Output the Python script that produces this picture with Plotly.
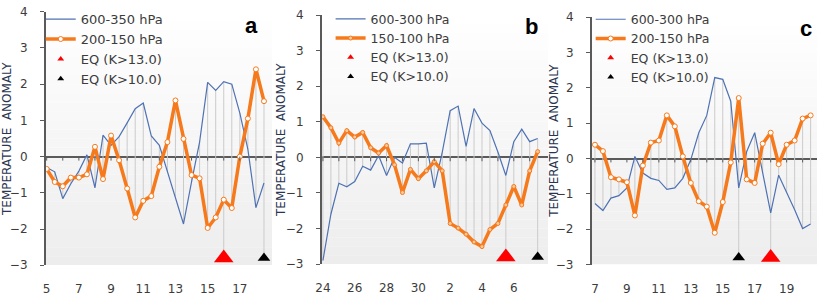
import plotly.graph_objects as go

W, H = 818, 296

# ---------------- data (half-daily values) ----------------
# Panel a
a_ticktext = ["5", "7", "9", "11", "13", "15", "17"]
a_blue_name = "600-350 hPa"
a_orange_name = "200-150 hPa"
a_blue = [-0.30, -0.42, -1.16, -0.75, -0.40, 0.05, -0.86, 0.59, 0.31, 0.55,
          0.93, 1.32, 1.48, 0.57, 0.31, -0.40, -1.10, -1.86, -0.70, 0.40,
          2.05, 1.83, 2.07, 2.00, 1.20, 0.20, -1.41, -0.73]
a_orange = [-0.34, -0.70, -0.82, -0.58, -0.58, -0.49, 0.27, -0.62, 0.58, -0.10,
            -0.88, -1.68, -1.22, -1.09, -0.28, 0.40, 1.55, 0.49, -0.51, -0.60,
            -1.97, -1.68, -1.19, -1.42, 0.00, 1.05, 2.41, 1.53]
a_eq13 = [22]   # category index of EQ (K>13.0)
a_eq10 = [27]   # category index of EQ (K>10.0)

# Panel b
b_ticktext = ["24", "26", "28", "30", "2", "4", "6"]
b_blue_name = "600-300 hPa"
b_orange_name = "150-100 hPa"
b_blue = [-2.90, -1.60, -0.73, -0.83, -0.68, -0.25, -0.36, 0.05, -0.51, 0.00,
          -0.16, 0.38, 0.38, 0.40, -0.86, 0.14, 1.31, 1.44, 0.31, 1.37,
          0.96, 0.75, 0.15, -0.51, 0.44, 0.79, 0.44, 0.53]
b_orange = [1.14, 0.83, 0.40, 0.75, 0.57, 0.70, 0.27, 0.12, 0.33, -0.21,
            -0.99, -0.34, -0.60, -0.38, -0.12, -0.38, -1.86, -1.99, -2.16, -2.38,
            -2.51, -2.03, -1.86, -1.34, -0.82, -1.34, -0.38, 0.16]
b_eq13 = [23]
b_eq10 = [27]

# Panel c
c_ticktext = ["7", "9", "11", "13", "15", "17", "19"]
c_blue_name = "600-300 hPa"
c_orange_name = "200-150 hPa"
c_blue = [-1.27, -1.47, -1.12, -1.05, -0.83, 0.06, -0.41, -0.56, -0.62, -0.87,
          -0.83, -0.56, -0.03, 0.73, 1.22, 2.29, 2.24, 1.62, -0.83, 0.20,
          0.73, -0.40, -1.54, -0.47, -0.95, -1.45, -1.98, -1.85]
c_orange = [0.39, 0.21, -0.53, -0.59, -0.67, -1.61, -0.20, 0.45, 0.51, 1.22,
            0.91, 0.06, -0.69, -1.21, -1.36, -2.10, -1.23, -0.11, 1.71, -0.59,
            -0.69, 0.42, 0.73, -0.16, 0.39, 0.51, 1.13, 1.22]
c_eq13 = [22]
c_eq10 = [18]

EQ_LEVEL = -2.8
EQ13_NAME = "EQ (K>13.0)"
EQ10_NAME = "EQ (K>10.0)"
Y_TITLE = "TEMPERATURE  ANOMALY"

# ---------------- styling ----------------
FONT = "DejaVu Sans"
BLUE = "#4f72b4"
ORANGE = "#f67a1c"
AXIS = "#5a5a5a"
TXT = "#3c3c3c"
HILO = "#cbcbcb"

panels = [
    dict(letter="a", blue=a_blue, orange=a_orange, bname=a_blue_name, oname=a_orange_name,
         ticktext=a_ticktext, eq13=a_eq13, eq10=a_eq10,
         px=(40, 268), py=(5, 274), xr=(-0.12, 28.0), omark="white", osize=5,
         ytitle_x=1.5, letter_xy=(247, 20), legend_xy=(35, -3), lfont=13),
    dict(letter="b", blue=b_blue, orange=b_orange, bname=b_blue_name, oname=b_orange_name,
         ticktext=b_ticktext, eq13=b_eq13, eq10=b_eq10,
         px=(318, 546), py=(8.5, 272.7), xr=(-0.16, 28.3), omark="#fcc9a0", osize=4,
         ytitle_x=276.5, letter_xy=(529, 21), legend_xy=(327, -3), lfont=12.5),
    dict(letter="c", blue=c_blue, orange=c_orange, bname=c_blue_name, oname=c_orange_name,
         ticktext=c_ticktext, eq13=c_eq13, eq10=c_eq10,
         px=(590, 817), py=(10.7, 273.3), xr=(-0.41, 27.8), omark="white", osize=5,
         ytitle_x=552, letter_xy=(806, 23), legend_xy=(589, -2.5), lfont=12.5),
]

fig = go.Figure()
layout = dict(width=W, height=H, margin=dict(l=0, r=0, t=0, b=0),
              paper_bgcolor="white", plot_bgcolor="rgba(0,0,0,0)",
              showlegend=True, annotations=[], shapes=[])

for k, p in enumerate(panels):
    sfx = "" if k == 0 else str(k + 1)
    xa, ya = "x" + sfx, "y" + sfx
    lg = "legend" + sfx
    n = len(p["blue"])
    xs = list(range(n))

    # high-low lines
    hx, hy = [], []
    for i in xs:
        vals = [p["blue"][i], p["orange"][i]]
        if i in p["eq13"] or i in p["eq10"]:
            vals.append(EQ_LEVEL)
        hx += [i, i, None]
        hy += [min(vals), max(vals), None]
    fig.add_trace(go.Scatter(x=hx, y=hy, mode="lines", line=dict(color=HILO, width=1),
                             xaxis=xa, yaxis=ya, showlegend=False, hoverinfo="skip"))

    fig.add_trace(go.Scatter(x=xs, y=p["blue"], mode="lines", name=p["bname"],
                             line=dict(color=BLUE, width=1.2), xaxis=xa, yaxis=ya, legend=lg))
    fig.add_trace(go.Scatter(x=xs, y=p["orange"], mode="lines+markers", name=p["oname"],
                             line=dict(color=ORANGE, width=3.5),
                             marker=dict(size=p["osize"], color=p["omark"],
                                         line=dict(color=ORANGE, width=1)),
                             xaxis=xa, yaxis=ya, legend=lg))
    # legend entries for EQ
    fig.add_trace(go.Scatter(x=[None], y=[None], mode="markers", name=EQ13_NAME,
                             marker=dict(symbol="triangle-up", size=6, color="#ff0000"),
                             xaxis=xa, yaxis=ya, legend=lg))
    fig.add_trace(go.Scatter(x=[None], y=[None], mode="markers", name=EQ10_NAME,
                             marker=dict(symbol="triangle-up", size=6, color="black"),
                             xaxis=xa, yaxis=ya, legend=lg))
    # EQ markers on the chart
    fig.add_trace(go.Scatter(x=p["eq13"], y=[EQ_LEVEL] * len(p["eq13"]), mode="markers",
                             marker=dict(symbol="triangle-up", size=17, color="#ff0000"),
                             xaxis=xa, yaxis=ya, showlegend=False, cliponaxis=False))
    fig.add_trace(go.Scatter(x=p["eq10"], y=[EQ_LEVEL] * len(p["eq10"]), mode="markers",
                             marker=dict(symbol="triangle-up", size=11, color="black"),
                             xaxis=xa, yaxis=ya, showlegend=False, cliponaxis=False))

    xd = (p["px"][0] / W, p["px"][1] / W)
    yd = (1 - p["py"][1] / H, 1 - p["py"][0] / H)
    layout["xaxis" + sfx] = dict(domain=xd, range=list(p["xr"]), anchor=ya,
                                 tickvals=list(range(0, n, 4)), ticktext=p["ticktext"],
                                 ticks="", ticklabelstandoff=15,
                                 showline=False, showgrid=False, zeroline=False,
                                 tickfont=dict(family=FONT, size=12, color=TXT))
    layout["yaxis" + sfx] = dict(domain=yd, range=[-3, 4], dtick=1, tick0=0, anchor=xa,
                                 showline=True, linecolor=AXIS, linewidth=1.5,
                                 ticks="outside", ticklen=4, tickcolor=AXIS,
                                 showgrid=False, zeroline=True, zerolinecolor=AXIS,
                                 zerolinewidth=1.5, ticklabelstandoff=10,
                                 tickfont=dict(family=FONT, size=12, color=TXT))
    layout[lg] = dict(x=p["legend_xy"][0] / W, y=1 - p["legend_xy"][1] / H,
                      xanchor="left", yanchor="top", bgcolor="rgba(0,0,0,0)",
                      font=dict(family=FONT, size=p["lfont"], color=TXT), tracegroupgap=0,
                      itemwidth=30)

    # background gradient
    nb = 28
    for j in range(nb):
        y0 = -3 + 7 * j / nb
        y1 = -3 + 7 * (j + 1) / nb
        t = (j + 0.5) / nb
        g = int(round(237 + (255 - 237) * t))
        layout["shapes"].append(dict(type="rect", xref=xa + " domain", yref=ya,
                                     x0=0, x1=1, y0=y0, y1=y1, layer="below",
                                     line=dict(width=0), fillcolor=f"rgb({g},{g},{g})"))
    # tick marks on the zero axis
    for i in range(0, n, 2):
        layout["shapes"].append(dict(type="line", xref=xa, yref=ya, x0=i, x1=i,
                                     y0=0, y1=-0.11, line=dict(color=AXIS, width=1)))

    layout["annotations"].append(dict(text=Y_TITLE, textangle=-90, xref="paper", yref="paper",
                                      x=p["ytitle_x"] / W, y=(yd[0] + yd[1]) / 2,
                                      showarrow=False, xanchor="center", yanchor="middle",
                                      font=dict(family=FONT, size=12, color="#2a3550")))
    layout["annotations"].append(dict(text="<b>" + p["letter"] + "</b>", xref="paper", yref="paper",
                                      x=p["letter_xy"][0] / W, y=1 - p["letter_xy"][1] / H,
                                      showarrow=False, xanchor="center", yanchor="middle",
                                      font=dict(family="Liberation Sans", size=22, color="black")))

fig.update_layout(**layout)
fig.write_html("out.html", config={"displayModeBar": False},
               post_script="document.body.style.margin='0';document.body.style.overflow='hidden';")
